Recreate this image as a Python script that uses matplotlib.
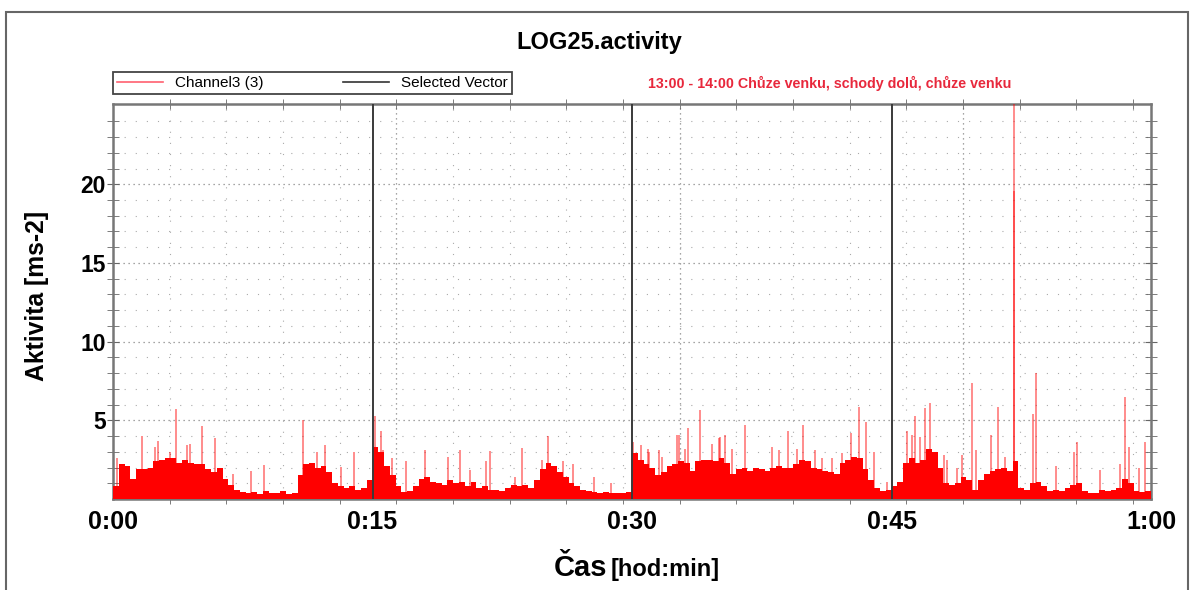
import numpy as np
import matplotlib
matplotlib.use("Agg")
import matplotlib.pyplot as plt
from matplotlib.lines import Line2D
from matplotlib.patches import Rectangle

plt.rcParams['font.family'] = ['Liberation Sans', 'DejaVu Sans']

# dense body of the activity signal, one value per 20 s
body_0_15 = [0.8, 2.2, 2.1, 1.3, 1.9, 1.9, 2.0, 2.4, 2.5, 2.6, 2.6, 2.3, 2.5, 2.3, 2.2,
             2.2, 1.9, 1.7, 2.0, 1.3, 0.9, 0.6, 0.45, 0.35, 0.45, 0.3, 0.5, 0.4, 0.35, 0.5,
             0.3, 0.4, 1.5, 2.2, 2.3, 2.0, 2.1, 1.7, 1.0, 0.8, 0.7, 0.8, 0.6, 0.7, 1.2]
body_15_30 = [3.3, 3.0, 2.1, 1.5, 0.8, 0.45, 0.5, 0.8, 1.3, 1.4, 1.1, 1.0, 0.9, 1.2, 1.0,
              1.1, 0.8, 1.1, 0.7, 0.8, 0.6, 0.6, 0.5, 0.7, 0.9, 0.8, 0.9, 0.7, 1.2, 1.9,
              2.3, 2.1, 1.7, 1.4, 1.0, 0.8, 0.55, 0.5, 0.45, 0.4, 0.45, 0.4, 0.35, 0.4, 0.45]
body_30_45 = [2.9, 2.5, 2.2, 2.0, 1.5, 1.7, 2.1, 2.2, 2.4, 2.3, 1.8, 2.4, 2.5, 2.5, 2.4,
              2.6, 2.3, 1.6, 1.9, 2.0, 1.8, 2.0, 1.9, 1.8, 2.0, 2.1, 2.0, 2.0, 2.2, 2.5,
              2.4, 2.0, 1.9, 1.8, 1.7, 1.6, 2.3, 2.5, 2.7, 2.6, 1.9, 1.2, 0.7, 0.5, 0.6]
body_45_60 = [0.8, 1.1, 2.3, 2.6, 2.3, 2.5, 3.2, 3.0, 2.0, 1.0, 0.9, 1.0, 1.4, 1.2, 0.6,
              1.2, 1.6, 1.8, 1.9, 2.0, 1.8, 2.4, 0.7, 0.6, 1.0, 1.1, 0.8, 0.5, 0.6, 0.5,
              0.7, 0.9, 1.0, 0.5, 0.35, 0.4, 0.6, 0.5, 0.55, 0.7, 1.3, 1.0, 0.5, 0.45, 0.5]

# single peaks: time [min], value [ms-2]
spike_t = [0.21, 1.66, 2.43, 2.62, 3.3, 3.62, 4.26, 4.45, 5.13, 5.9, 6.96, 8.0, 8.7, 11.0,
           11.78, 12.25, 13.2, 13.94,
           15.17, 15.5, 15.62, 16.11, 16.96, 18.03, 19.39, 20.07, 20.65, 21.58, 21.81, 23.23,
           23.66, 24.77, 25.16, 26.0, 26.6, 27.8, 28.8,
           30.06, 30.53, 30.9, 31.01, 31.58, 31.76, 32.62, 32.73, 33.05, 33.21, 33.95, 34.6,
           35.0, 35.11, 35.4, 35.76, 36.54, 38.07, 38.5, 39.03, 39.55, 39.89, 40.56, 40.98,
           41.55, 42.13, 42.66, 43.13, 43.52, 44.0, 44.76,
           45.9, 46.19, 46.38, 46.66, 46.95, 47.24, 48.06, 48.19, 48.8, 49.05, 49.63, 49.91,
           50.77, 51.16, 51.56, 52.08, 52.1, 53.16, 53.36, 54.5, 55.57, 55.75, 57.08, 58.2,
           58.52, 58.71, 59.28, 59.67]
spike_v = [2.6, 4.0, 3.3, 3.7, 3.0, 5.7, 3.4, 3.5, 4.65, 3.85, 1.6, 1.8, 2.15, 5.0,
           3.0, 3.4, 2.05, 3.0,
           5.3, 4.3, 3.1, 2.6, 2.4, 3.1, 2.7, 3.1, 1.85, 2.4, 3.05, 1.4,
           3.25, 2.5, 4.0, 2.4, 2.25, 1.4, 1.0,
           3.6, 3.4, 3.2, 3.0, 3.1, 2.7, 4.06, 4.06, 3.2, 4.5, 5.65, 3.5,
           3.85, 3.95, 4.06, 3.2, 4.7, 3.3, 3.1, 4.3, 3.2, 4.7, 3.1, 2.6,
           2.6, 2.9, 4.2, 5.86, 4.9, 3.0, 1.1,
           4.3, 4.06, 5.3, 3.95, 5.76, 6.07, 2.8, 2.5, 1.95, 2.8, 7.4, 3.1,
           4.06, 5.86, 2.7, 19.6, 26.0, 5.4, 8.0, 2.1, 3.0, 3.64, 1.85, 2.2,
           6.45, 3.3, 1.95, 3.64]

vector_t = [15, 30, 45]
xtick_pos = [0, 15, 30, 45, 60]
xtick_lab = ["0:00", "0:15", "0:30", "0:45", "1:00"]
ytick_pos = [5, 10, 15, 20]

body = np.array(body_0_15 + body_15_30 + body_30_45 + body_45_60)
edges = np.arange(len(body) + 1) / 3.0

fig = plt.figure(figsize=(11.92, 5.9), dpi=100)
ax = fig.add_axes([113 / 1192, 1 - 499 / 590, 1038 / 1192, 395 / 590])

red = "#ff0000"
ax.fill_between(edges, np.append(body, body[-1]), step="post", color=red, lw=0, zorder=3)
ax.vlines(spike_t, 0, spike_v, color=red, alpha=0.45, lw=1.4, zorder=4)
for t in vector_t:
    ax.axvline(t, color="#3a3a3a", lw=1.4, zorder=5)

ax.set_xlim(0, 60)
ax.set_ylim(0, 25.1)

# grid of the logger software
step = 60 / 18.32
minor_x = np.arange(0, 60.01, step)
ax.set_xticks(xtick_pos, xtick_lab)
ax.set_xticks(minor_x, minor=True)
ax.set_yticks(ytick_pos)
ax.set_yticks(np.arange(1, 25), minor=True)
for i, x in enumerate(minor_x[1:], start=1):
    if i % 5 == 0:
        ax.axvline(x, color="#888888", lw=0.9, ls=(0, (1, 3)), zorder=1)
    else:
        ax.axvline(x, color="#aaaaaa", lw=0.8, ls=(0, (1, 9)), zorder=1)
ax.grid(which="major", axis="y", color="#888888", lw=0.9, ls=(0, (1, 3)), zorder=1)
ax.grid(which="minor", axis="y", color="#aaaaaa", lw=0.8, ls=(0, (1, 9)), zorder=1)

for s in ax.spines.values():
    s.set_color("#777777")
    s.set_linewidth(1.8)
ax.tick_params(axis="x", which="major", length=0, pad=8, labelsize=18)
ax.tick_params(axis="x", which="minor", direction="inout", length=7, top=True,
               bottom=True, color="#666666")
ax.tick_params(axis="y", which="both", direction="inout", length=8, left=True,
               right=True, color="#666666", labelsize=16.5, pad=1)
for lab in ax.get_xticklabels() + ax.get_yticklabels():
    lab.set_fontweight("bold")

# labels and title
fig.text(0.503, 1 - 43 / 590, "LOG25.activity", ha="center", va="center",
         fontsize=17, fontweight="bold")
fig.text(607 / 1192, 1 - 576 / 590, "Čas", ha="right", va="baseline",
         fontsize=21, fontweight="bold")
fig.text(611 / 1192, 1 - 576 / 590, "[hod:min]", ha="left", va="baseline",
         fontsize=17, fontweight="bold")
fig.text(37 / 1192, 1 - 296 / 590, "Aktivita [ms-2]", ha="center", va="center",
         rotation=90, fontsize=17.8, fontweight="bold")
fig.text(648 / 1192, 1 - 83 / 590, "13:00 - 14:00 Chůze venku, schody dolů, chůze venku",
         ha="left", va="center", fontsize=10.3, fontweight="bold", color="#e8283c")

handles = [Line2D([], [], color="#ff6070", lw=1.2), Line2D([], [], color="#333333", lw=1.2)]
leg = fig.legend(handles, ["Channel3 (3)", "Selected Vector"], loc="lower left",
                 bbox_to_anchor=(113 / 1192, 1 - 94 / 590, 399 / 1192, 22 / 590),
                 mode="expand", ncol=2, borderaxespad=0, fancybox=False,
                 edgecolor="#444444", fontsize=11, handlelength=3.0, borderpad=0.25,
                 handletextpad=0.8, framealpha=1)
leg.get_frame().set_linewidth(1.3)

# outer frame of the window
fig.patches.append(Rectangle((6 / 1192, -0.02), 1182 / 1192, 1 - 12 / 590 + 0.02,
                             transform=fig.transFigure, fill=False,
                             edgecolor="#666666", lw=1.5))

fig.savefig("out.png", dpi=100)
